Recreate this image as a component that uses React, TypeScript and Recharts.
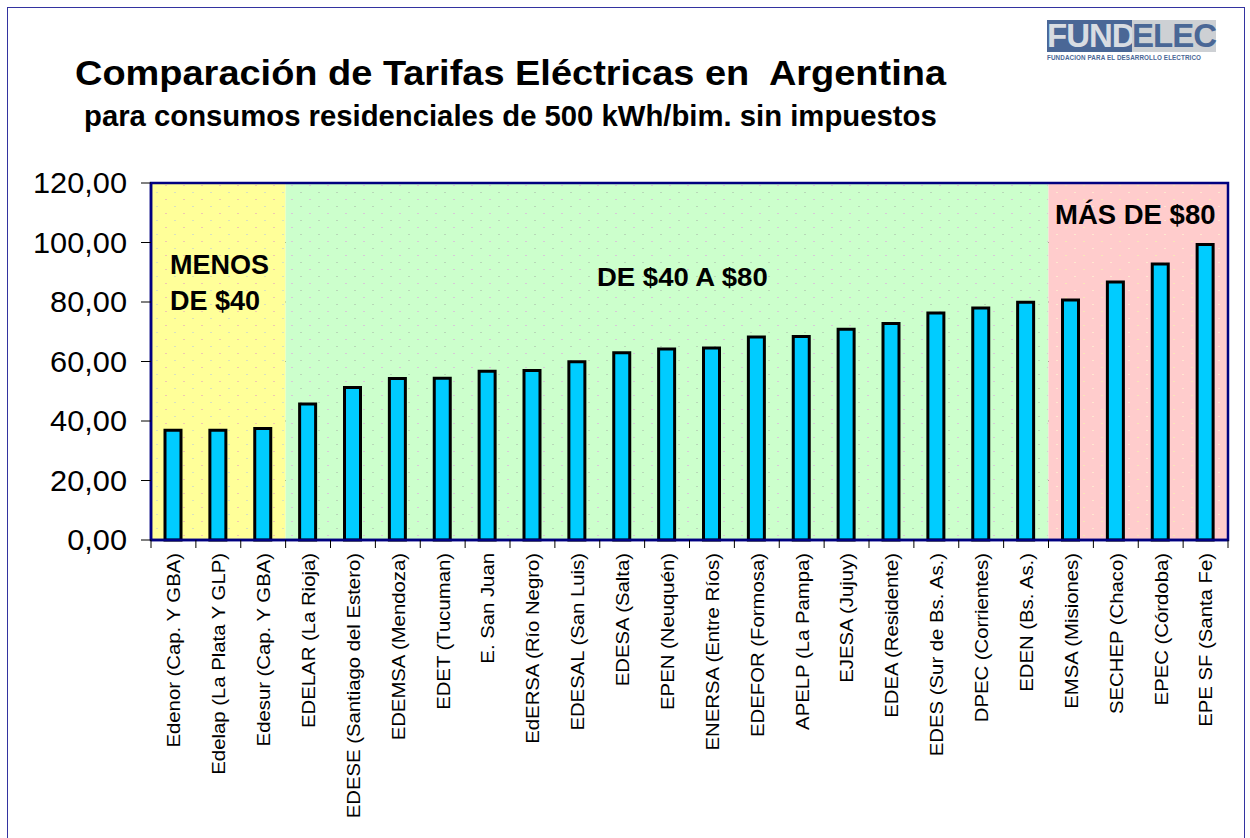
import React from "react";
import {
  BarChart,
  Bar,
  XAxis,
  YAxis,
  CartesianGrid,
  ReferenceArea,
} from "recharts";

const companies = [
  "Edenor (Cap. Y GBA)",
  "Edelap (La Plata Y GLP)",
  "Edesur (Cap. Y GBA)",
  "EDELAR (La Rioja)",
  "EDESE (Santiago del Estero)",
  "EDEMSA (Mendoza)",
  "EDET (Tucuman)",
  "E. San Juan",
  "EdERSA (Río Negro)",
  "EDESAL (San Luis)",
  "EDESA (Salta)",
  "EPEN (Neuquén)",
  "ENERSA (Entre Ríos)",
  "EDEFOR (Formosa)",
  "APELP (La Pampa)",
  "EJESA (Jujuy)",
  "EDEA (Residente)",
  "EDES (Sur de Bs. As.)",
  "DPEC (Corrientes)",
  "EDEN (Bs. As.)",
  "EMSA (Misiones)",
  "SECHEP (Chaco)",
  "EPEC (Córdoba)",
  "EPE SF (Santa Fe)",
];

const tariffs = [
  36.9, 36.9, 37.5, 45.7, 51.3, 54.3, 54.4, 56.7, 57.0, 59.9, 62.9, 64.2,
  64.5, 68.2, 68.4, 70.8, 72.8, 76.3, 78.0, 79.9, 80.7, 86.7, 92.8, 99.3,
];

const yTicks = [0, 20, 40, 60, 80, 100, 120];

const data = companies.map((name, i) => ({ name, tarifa: tariffs[i] }));

const FONT = "'Liberation Sans', Arial, sans-serif";
const NAVY = "#000080";

const fmt = (v: number) => v.toFixed(2).replace(".", ",");

const XTick = (props: any) => {
  const { x, y, payload, index } = props;
  const half = payload && payload.offset ? payload.offset : 22.4;
  return (
    <g>
      <line x1={x - half} x2={x - half} y1={y} y2={y + 8} stroke="#000" />
      {index === companies.length - 1 && (
        <line x1={x + half} x2={x + half} y1={y} y2={y + 8} stroke="#000" />
      )}
      <text
        transform={`translate(${x},${y + 13}) rotate(-90) scale(1.07,1)`}
        textAnchor="end"
        dy="0.36em"
        fontFamily={FONT}
        fontSize={19}
        fill="#000"
      >
        {payload.value}
      </text>
    </g>
  );
};

const YTick = (props: any) => {
  const { x, y, payload } = props;
  return (
    <g>
      <line x1={x + 14} x2={x + 24} y1={y} y2={y} stroke="#000" />
      <text
        transform={`translate(${x},${y}) scale(1.06,1)`}
        dy="0.36em"
        textAnchor="end"
        fontFamily={FONT}
        fontSize={29}
        fill="#000"
      >
        {fmt(payload.value)}
      </text>
    </g>
  );
};

const Patterns = () => (
  <svg width={0} height={0} style={{ position: "absolute" }}>
    <defs>
      <pattern id="pYellow" width="18" height="14" patternUnits="userSpaceOnUse">
        <rect width="18" height="14" fill="#FFFF99" />
        <rect x="3" y="3" width="2" height="1" fill="#F0C8B0" />
        <rect x="12" y="10" width="2" height="1" fill="#D8E0C0" />
      </pattern>
      <pattern id="pGreen" width="18" height="14" patternUnits="userSpaceOnUse">
        <rect width="18" height="14" fill="#CCFFCC" />
        <rect x="3" y="3" width="2" height="1" fill="#D8C8D8" />
        <rect x="12" y="10" width="2" height="1" fill="#B8D8B8" />
      </pattern>
      <pattern id="pPink" width="18" height="14" patternUnits="userSpaceOnUse">
        <rect width="18" height="14" fill="#FFCCCC" />
        <rect x="3" y="3" width="2" height="1" fill="#F8E8B8" />
        <rect x="12" y="10" width="2" height="1" fill="#FFE8D0" />
      </pattern>
    </defs>
  </svg>
);

const abs = (style: React.CSSProperties): React.CSSProperties => ({
  position: "absolute",
  fontFamily: FONT,
  fontWeight: "bold",
  color: "#000",
  whiteSpace: "nowrap",
  lineHeight: 1,
  transformOrigin: "0 0",
  ...style,
});

export default function App() {
  return (
    <div
      style={{
        position: "absolute",
        left: 0,
        top: 0,
        width: 1250,
        height: 838,
        background: "#fff",
        overflow: "hidden",
      }}
    >
      <Patterns />
      <div
        style={{
          position: "absolute",
          left: 7,
          top: 7,
          width: 1238,
          height: 840,
          border: "1.5px solid #3333A0",
          boxSizing: "border-box",
        }}
      />
      <BarChart
        width={1250}
        height={838}
        data={data}
        margin={{ top: 183, right: 22, left: 0, bottom: 8 }}
        barCategoryGap="0%"
        style={{ position: "absolute", left: 0, top: 0 }}
      >
        <ReferenceArea
          x1={companies[0]}
          x2={companies[2]}
          fill="url(#pYellow)"
          fillOpacity={1}
        />
        <ReferenceArea
          x1={companies[3]}
          x2={companies[19]}
          fill="url(#pGreen)"
          fillOpacity={1}
        />
        <ReferenceArea
          x1={companies[20]}
          x2={companies[23]}
          fill="url(#pPink)"
          fillOpacity={1}
        />
        <CartesianGrid vertical={false} stroke="#000" strokeWidth={1} />
        <XAxis
          dataKey="name"
          interval={0}
          height={290}
          tickLine={false}
          tickSize={0}
          tickMargin={0}
          axisLine={{ stroke: NAVY, strokeWidth: 2.5 }}
          tick={<XTick />}
        />
        <YAxis
          domain={[0, 120]}
          ticks={yTicks}
          width={151}
          tickLine={false}
          tickSize={0}
          tickMargin={24}
          axisLine={{ stroke: NAVY, strokeWidth: 2.5 }}
          tick={<YTick />}
        />
        <Bar
          dataKey="tarifa"
          fill="#00CCFF"
          stroke="#000"
          strokeWidth={3}
          barSize={16}
          isAnimationActive={false}
        />
        <ReferenceArea
          x1={companies[0]}
          x2={companies[23]}
          y1={0}
          y2={120}
          fill="none"
          stroke={NAVY}
          strokeWidth={2.5}
        />
      </BarChart>

      <div style={abs({ left: 75, top: 56, fontSize: 34.5, transform: "scaleX(1.1)" })}>
        Comparación de Tarifas Eléctricas en&nbsp; Argentina
      </div>
      <div style={abs({ left: 84, top: 101, fontSize: 30, transform: "scaleX(0.976)" })}>
        para consumos residenciales de 500 kWh/bim. sin impuestos
      </div>

      <div style={abs({ left: 170, top: 247, fontSize: 27, lineHeight: "36px" })}>
        MENOS
        <br />
        DE $40
      </div>
      <div style={abs({ left: 597, top: 265, fontSize: 25, transform: "scaleX(1.1)" })}>
        DE $40 A $80
      </div>
      <div style={abs({ left: 1055, top: 201, fontSize: 27.5 })}>MÁS DE $80</div>

      <div
        style={{
          position: "absolute",
          left: 1047,
          top: 20,
          width: 165,
          height: 32,
          display: "flex",
          fontFamily: FONT,
          fontWeight: "bold",
          fontSize: 33,
          lineHeight: "32px",
        }}
      >
        <div
          style={{
            width: 85,
            background: "#4A6796",
            color: "#D8DCE2",
            textAlign: "right",
            letterSpacing: -1,
          }}
        >
          FUND
        </div>
        <div
          style={{
            flex: 1,
            background: "#CDD0D4",
            color: "#4A6796",
            letterSpacing: -1,
          }}
        >
          ELEC
        </div>
      </div>
      <div
        style={abs({
          left: 1047,
          top: 55,
          fontSize: 6.3,
          color: "#4A6796",
          letterSpacing: 0.1,
        })}
      >
        FUNDACION PARA EL DESARROLLO ELECTRICO
      </div>
    </div>
  );
}
